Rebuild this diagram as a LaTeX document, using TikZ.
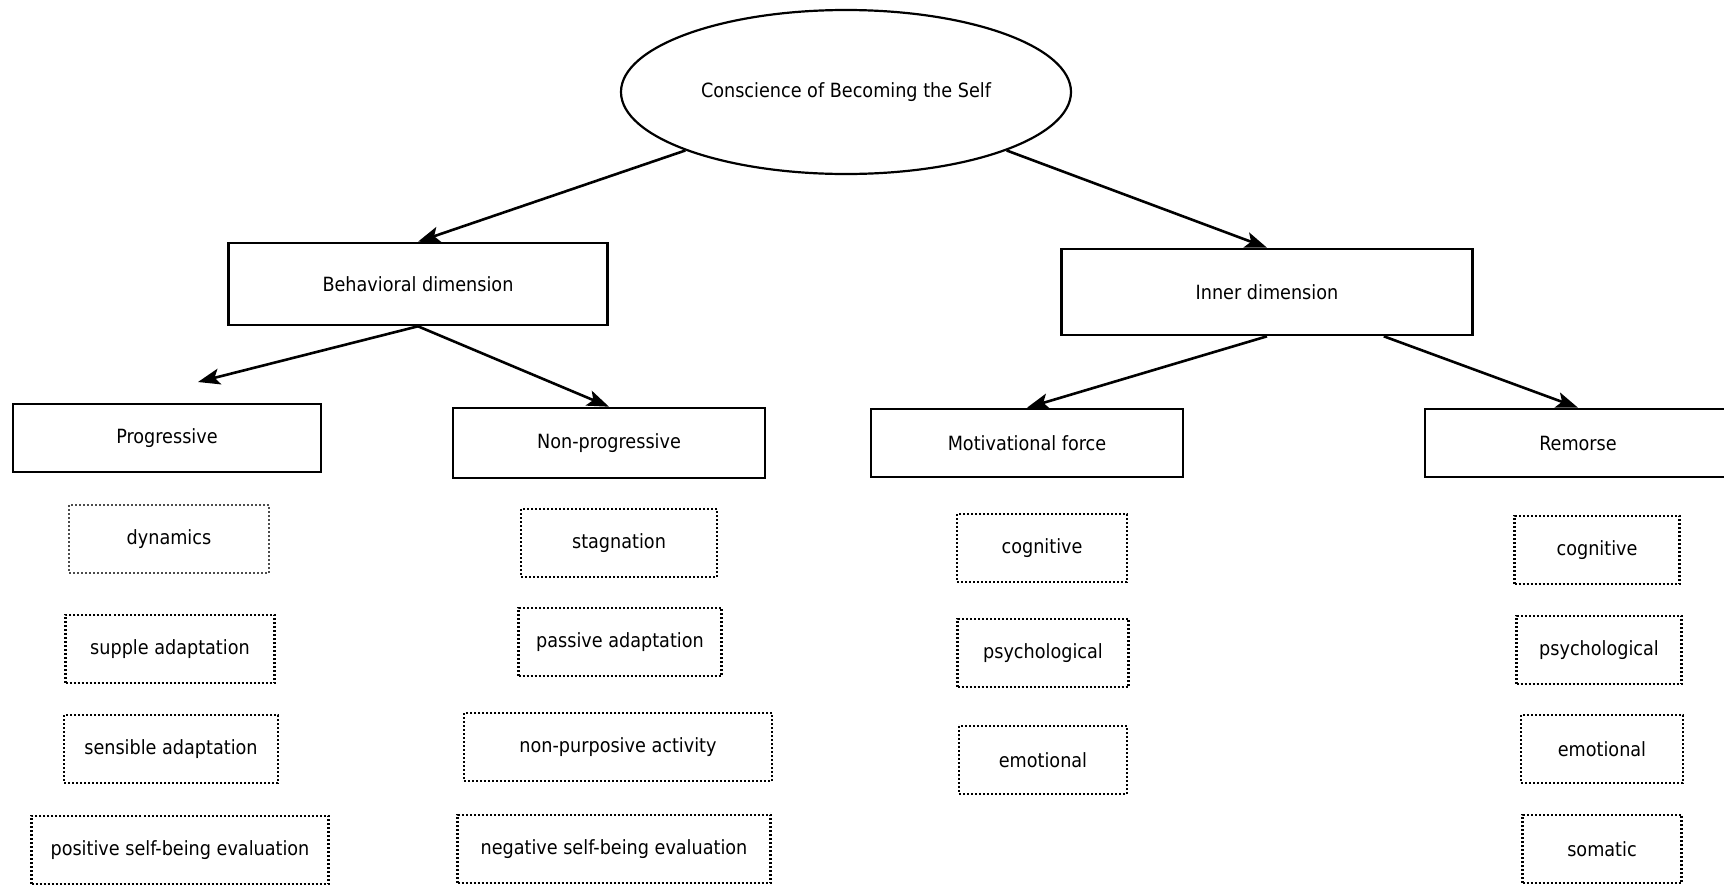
\documentclass[tikz,border=0pt]{standalone}
\usepackage{fontspec}
\setmainfont{DejaVu Sans Condensed}
\usetikzlibrary{arrows.meta,shapes.geometric}

\begin{document}
\begin{tikzpicture}[x=0.5pt, y=-0.5pt, >={Stealth[length=11pt,width=8pt,inset=2.5pt]},
    font=\fontsize{9.8}{12}\selectfont,
    root/.style = {draw, ellipse, line width=1.1pt, minimum width=225pt, minimum height=82pt},
    main/.style = {draw, rectangle, line width=1.3pt},
    sub/.style = {draw, rectangle, line width=1.3pt, dash pattern=on 1pt off 1pt, minimum height=34pt},
    link/.style = {->, line width=1.3pt}]

    \useasboundingbox (0,0) rectangle (1724,884);

    \node[root] (self) at (846,92) {Conscience of Becoming the Self};

    \node[main, minimum width=189.5pt, minimum height=41pt] (behav) at (418,284) {Behavioral dimension};
    \node[main, minimum width=205.5pt, minimum height=43pt] (inner) at (1267,292) {Inner dimension};

    \node[main, minimum width=154pt, minimum height=34pt] (prog) at (167,438) {Progressive};
    \node[main, minimum width=156pt, minimum height=35pt] (nonprog) at (609,443) {Non-progressive};
    \node[main, minimum width=156pt, minimum height=34pt] (motiv) at (1027,443) {Motivational force};
    \node[main, minimum width=153pt, minimum height=34pt] (remorse) at (1578,443) {Remorse};
    \coordinate (progtip) at (198,382);

    % progressive
    \node[sub, line width=0.6pt, draw=black!70, minimum width=100pt] (dyn) at (169,539) {dynamics};
    \node[sub, minimum width=104.5pt] (supple) at (170,649) {supple adaptation};
    \node[sub, minimum width=107pt] (sensible) at (171,749) {sensible adaptation};
    \node[sub, minimum width=148.5pt] (posit) at (180,850) {positive self-being evaluation};

    % non-progressive
    \node[sub, minimum width=98pt] (stag) at (619,543) {stagnation};
    \node[sub, minimum width=101.5pt] (passive) at (620,642) {passive adaptation};
    \node[sub, minimum width=154pt] (nonpurp) at (618,747) {non-purposive activity};
    \node[sub, minimum width=156.5pt] (negat) at (614,849) {negative self-being evaluation};

    % motivational force
    \node[sub, minimum width=85pt] (mcog) at (1042,548) {cognitive};
    \node[sub, minimum width=85.5pt] (mpsy) at (1043,653) {psychological};
    \node[sub, minimum width=84pt] (memo) at (1043,760) {emotional};

    % remorse
    \node[sub, minimum width=82.5pt] (rcog) at (1597,550) {cognitive};
    \node[sub, minimum width=82.5pt] (rpsy) at (1599,650) {psychological};
    \node[sub, minimum width=81pt] (remo) at (1602,749) {emotional};
    \node[sub, minimum width=79.5pt] (rsom) at (1602,849) {somatic};

    \draw[link] (self.200) -- (behav.north);
    \draw[link] (self.340) -- (inner.north);
    \draw[link] (behav.south) -- (progtip);
    \draw[link] (behav.south) -- (nonprog.north);
    \draw[link] (inner.south) -- (motiv.north);
    \draw[link] ([xshift=-45pt]inner.south east) -- (remorse.north);

\end{tikzpicture}
\end{document}
